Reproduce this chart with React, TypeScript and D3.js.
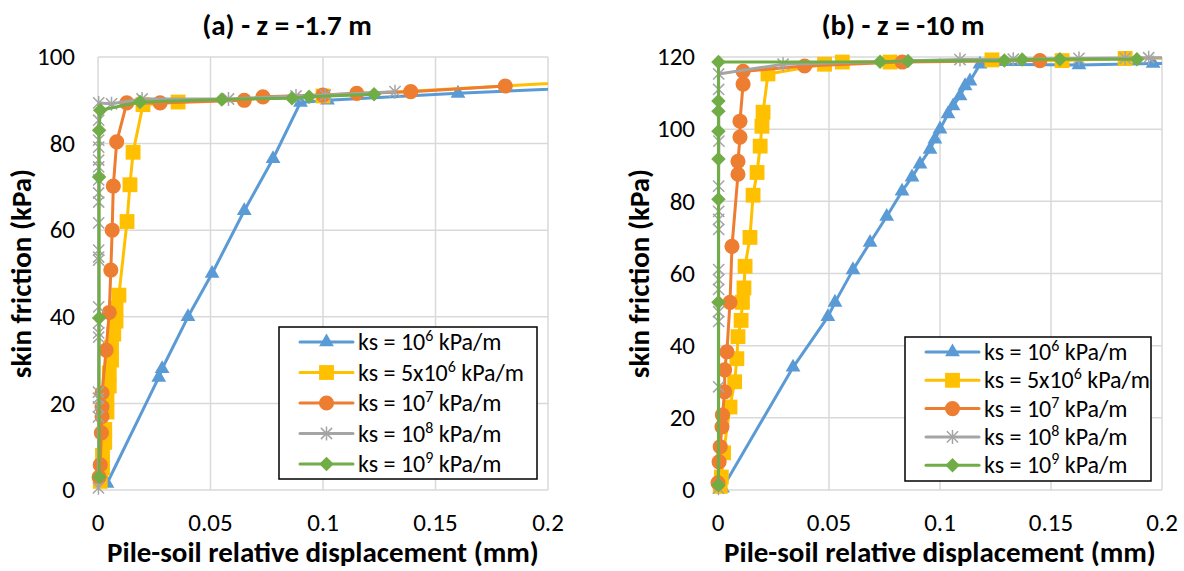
import React from 'react';
import * as d3 from 'd3';

type Pt = [number, number];

const xTicks = [0, 0.05, 0.1, 0.15, 0.2];
const xTickLabels = ['0', '0.05', '0.1', '0.15', '0.2'];
const yTicksA = [0, 20, 40, 60, 80, 100];
const yTicksB = [0, 20, 40, 60, 80, 100, 120];

const titleA = '(a) - z = -1.7 m';
const titleB = '(b) - z = -10 m';
const xTitle = 'Pile-soil relative displacement (mm)';
const yTitle = 'skin friction (kPa)';

const legendPrefix = ['ks = 10', 'ks = 5x10', 'ks = 10', 'ks = 10', 'ks = 10'];
const legendExp = ['6', '6', '7', '8', '9'];
const legendSuffix = ' kPa/m';
const seriesColors = ['#5B9BD5', '#FFC000', '#ED7D31', '#A5A5A5', '#70AD47'];
const seriesMarkers = ['triangle', 'square', 'circle', 'star', 'diamond'];

// Panel (a): z = -1.7 m
const a1e6: Pt[] = [[0.004, 1.5], [0.027, 26], [0.0285, 28], [0.040, 40], [0.0507, 50], [0.065, 64.5], [0.0778, 76.5], [0.09, 89.5], [0.102, 90], [0.16, 91.6], [0.24, 93.5]];
const a5e6: Pt[] = [[0.001, 2], [0.002, 5], [0.002, 8], [0.003, 11], [0.003, 14], [0.004, 18], [0.004, 21], [0.005, 24], [0.005, 27], [0.006, 30], [0.006, 33], [0.007, 36], [0.008, 39], [0.008, 42], [0.0093, 45], [0.0129, 62], [0.0142, 70.5], [0.0156, 78], [0.02, 89], [0.0356, 89.6], [0.1, 91], [0.24, 95]];
const a1e7: Pt[] = [[0.0005, 3], [0.001, 5.8], [0.0015, 13.2], [0.0018, 17], [0.0018, 19.2], [0.0018, 22.4], [0.0036, 32.3], [0.005, 41], [0.0057, 50.8], [0.0063, 60], [0.0068, 70.2], [0.0083, 80.4], [0.0128, 89.4], [0.0276, 89.4], [0.065, 90], [0.0733, 90.8], [0.1, 91.2], [0.115, 91.6], [0.139, 92], [0.181, 93.3]];
const a1e8: Pt[] = [[0.0002, 0.5], [0.0002, 16.9], [0.0002, 19.2], [0.0002, 21.2], [0.0002, 22.6], [0.0003, 35.3], [0.0003, 36.3], [0.0003, 38.6], [0.0003, 42.3], [0.0003, 53.1], [0.0003, 53.8], [0.0003, 55.4], [0.0003, 61.7], [0.0003, 66.5], [0.0003, 68.6], [0.0003, 71.6], [0.0003, 74.6], [0.0003, 76.2], [0.0003, 79.2], [0.0003, 80.8], [0.0003, 85.4], [0.0003, 89.4], [0.006, 89.2], [0.0196, 90.3], [0.058, 90.3], [0.088, 91], [0.101, 91.2], [0.132, 92]];
const a1e9: Pt[] = [[0.0005, 3], [0.0005, 39.7], [0.0005, 72.3], [0.0005, 83.1], [0.001, 87.7], [0.0187, 89.6], [0.055, 90.2], [0.0862, 90.5], [0.0938, 90.8], [0.1227, 91.4]];

// Panel (b): z = -10 m
const b1e6: Pt[] = [[0.002, 0.5], [0.0338, 34], [0.0495, 48], [0.0527, 52], [0.0608, 61], [0.0685, 68.6], [0.076, 75.8], [0.0829, 82.8], [0.0874, 86.7], [0.091, 90.3], [0.0955, 94.4], [0.0977, 97.2], [0.1, 100], [0.1036, 104.2], [0.1059, 106.4], [0.109, 109.2], [0.1113, 112], [0.1135, 113.3], [0.118, 118], [0.1626, 117.8], [0.196, 118.2], [0.24, 118.4]];
const b5e6: Pt[] = [[0.001, 1], [0.0015, 3.6], [0.0025, 10.3], [0.0054, 23], [0.0075, 30], [0.0085, 36.4], [0.009, 42.5], [0.0104, 47], [0.011, 52], [0.0117, 56], [0.0122, 62], [0.0144, 70], [0.0158, 81.7], [0.0176, 88], [0.019, 95.3], [0.0198, 100.8], [0.0203, 104.7], [0.0225, 115.3], [0.048, 118], [0.056, 118.6], [0.0775, 118.6], [0.1234, 119.2], [0.155, 119], [0.1834, 119.6], [0.24, 120]];
const b1e7: Pt[] = [[0, 2], [0.0005, 7.8], [0.001, 12], [0.0018, 17.5], [0.002, 20.8], [0.003, 27.2], [0.003, 33.3], [0.004, 38.3], [0.0054, 52], [0.0063, 67.5], [0.009, 87.5], [0.009, 91.1], [0.0099, 97.8], [0.0099, 102.2], [0.0113, 112.5], [0.0113, 116], [0.039, 117.5], [0.083, 118.6], [0.145, 119]];
const b1e8: Pt[] = [[0.0002, 0.5], [0.0003, 28.6], [0.0003, 46.7], [0.0003, 49.4], [0.0003, 55.6], [0.0003, 58.3], [0.0003, 61.1], [0.0003, 72.2], [0.0003, 75], [0.0003, 77.2], [0.0003, 84.2], [0.0004, 96.7], [0.0003, 111], [0.0003, 115.3], [0.0293, 118], [0.109, 119.3], [0.133, 119.4], [0.1626, 119.6], [0.1834, 119.7], [0.194, 119.8], [0.24, 120]];
const b1e9: Pt[] = [[0.0002, 1.4], [0.0002, 52], [0.0002, 80.6], [0.0002, 91.7], [0.0002, 99.4], [0.0002, 105], [0.0002, 107.8], [0.0002, 118.6], [0.073, 118.7], [0.0856, 118.9], [0.129, 119], [0.137, 119.3], [0.154, 119.4], [0.1887, 119.4]];

const FONT = 'Carlito, Calibri, Lato, sans-serif';

function Marker({ type, color, x, y }: { type: string; color: string; x: number; y: number }) {
  if (type === 'star') {
    const r = 7;
    const d = r * 0.8;
    return (
      <path
        transform={`translate(${x},${y})`}
        d={`M0,${-r}L0,${r}M${-d},${-d}L${d},${d}M${-d},${d}L${d},${-d}`}
        stroke={color}
        strokeWidth={1.5}
        fill="none"
      />
    );
  }
  let sym: d3.SymbolType = d3.symbolCircle;
  let size = 180;
  let rot = 0;
  if (type === 'triangle') { sym = d3.symbolTriangle; size = 95; }
  if (type === 'square') { sym = d3.symbolSquare; size = 220; }
  if (type === 'diamond') { sym = d3.symbolSquare; size = 105; rot = 45; }
  const p = d3.symbol().type(sym).size(size)() as string;
  return <path transform={`translate(${x},${y}) rotate(${rot})`} d={p} fill={color} />;
}

interface PanelProps {
  id: string;
  left: number; right: number; top: number; bottom: number;
  yMax: number; yTicks: number[];
  series: Pt[][];
  title: string; titleX: number;
  yTitleX: number;
  legend: { x: number; y: number; w: number; h: number; row0: number; dy: number };
}

function Panel(p: PanelProps) {
  const x = d3.scaleLinear().domain([0, 0.2]).range([p.left, p.right]);
  const y = d3.scaleLinear().domain([0, p.yMax]).range([p.bottom, p.top]);
  const line = d3.line<Pt>().x(d => x(d[0])).y(d => y(d[1]));
  const cx = (p.left + p.right) / 2;
  const cy = (p.top + p.bottom) / 2;
  const lg = p.legend;
  return (
    <g>
      <defs>
        <clipPath id={`clip-${p.id}`}>
          <rect x={p.left - 20} y={p.top - 20} width={p.right - p.left + 20} height={p.bottom - p.top + 40} />
        </clipPath>
      </defs>
      {xTicks.map((t, i) => (
        <line key={`gx${i}`} x1={x(t)} x2={x(t)} y1={p.top} y2={p.bottom} stroke="#D9D9D9" strokeWidth={1.5} />
      ))}
      {p.yTicks.map((t, i) => (
        <line key={`gy${i}`} x1={p.left} x2={p.right} y1={y(t)} y2={y(t)} stroke="#D9D9D9" strokeWidth={1.5} />
      ))}
      {xTicks.map((t, i) => (
        <text key={`tx${i}`} x={x(t)} y={p.bottom + 41} textAnchor="middle" fontSize={25} fontFamily={FONT} fill="#000">{xTickLabels[i]}</text>
      ))}
      {p.yTicks.map((t, i) => (
        <text key={`ty${i}`} x={p.left - 23} y={y(t)} dy="0.33em" textAnchor="end" fontSize={25} fontFamily={FONT} fill="#000">{t}</text>
      ))}
      {p.series.map((s, si) => (
        <g key={`s${si}`}>
          <path d={line(s) as string} fill="none" stroke={seriesColors[si]} strokeWidth={3} strokeLinejoin="round" strokeLinecap="round" clipPath={`url(#clip-${p.id})`} />
          {s.filter(d => d[0] <= 0.2).map((d, i) => (
            <Marker key={i} type={seriesMarkers[si]} color={seriesColors[si]} x={x(d[0])} y={y(d[1])} />
          ))}
        </g>
      ))}
      <rect x={lg.x} y={lg.y} width={lg.w} height={lg.h} fill="#fff" stroke="#000" strokeWidth={1.5} />
      {legendPrefix.map((pre, i) => {
        const ry = lg.row0 + i * lg.dy;
        const lx = lg.x + 21;
        return (
          <g key={`lg${i}`}>
            <line x1={lx} x2={lx + 53} y1={ry} y2={ry} stroke={seriesColors[i]} strokeWidth={3} strokeLinecap="round" />
            <Marker type={seriesMarkers[i]} color={seriesColors[i]} x={lx + 26.5} y={ry} />
            <text x={lx + 58} y={ry + 8} fontSize={24} fontFamily={FONT} fill="#000">
              {pre}
              <tspan fontSize={16} dy={-9}>{legendExp[i]}</tspan>
              <tspan dy={9}>{legendSuffix}</tspan>
            </text>
          </g>
        );
      })}
      <text x={p.titleX} y={35} textAnchor="middle" fontSize={29} fontWeight="bold" fontFamily={FONT} fill="#000">{p.title}</text>
      <text x={cx} y={p.bottom + 72} textAnchor="middle" fontSize={29} fontWeight="bold" fontFamily={FONT} fill="#000">{xTitle}</text>
      <text transform={`translate(${p.yTitleX},${cy}) rotate(-90)`} textAnchor="middle" dy="0.32em" fontSize={29} fontWeight="bold" fontFamily={FONT} fill="#000">{yTitle}</text>
    </g>
  );
}

export default function App() {
  return (
    <svg width={1184} height={571} style={{ position: 'absolute', left: 0, top: 0, background: '#fff' }}>
      <rect width={1184} height={571} fill="#fff" />
      <Panel
        id="a" left={98} right={548} top={57} bottom={490}
        yMax={100} yTicks={yTicksA}
        series={[a1e6, a5e6, a1e7, a1e8, a1e9]}
        title={titleA} titleX={287} yTitleX={22}
        legend={{ x: 279, y: 327, w: 258, h: 152, row0: 342, dy: 30.5 }}
      />
      <Panel
        id="b" left={718} right={1162} top={57} bottom={490}
        yMax={120} yTicks={yTicksB}
        series={[b1e6, b5e6, b1e7, b1e8, b1e9]}
        title={titleB} titleX={903} yTitleX={640}
        legend={{ x: 905, y: 337, w: 246, h: 144, row0: 352, dy: 28.3 }}
      />
    </svg>
  );
}
